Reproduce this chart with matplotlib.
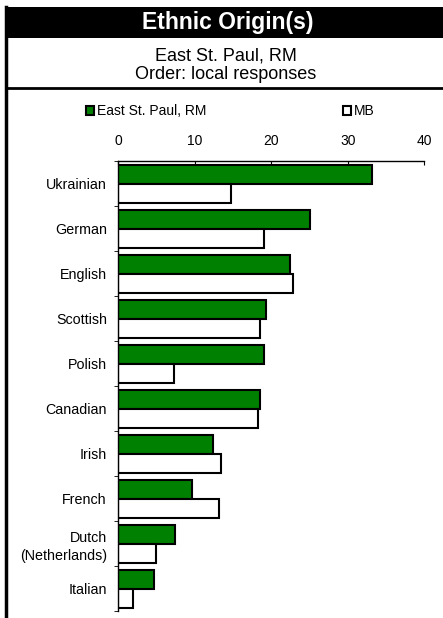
import numpy as np
import matplotlib.pyplot as plt
from matplotlib.patches import Rectangle, Patch
from matplotlib.lines import Line2D

plt.rcParams['font.family'] = ['Liberation Sans', 'DejaVu Sans']

categories = ["Ukrainian", "German", "English", "Scottish", "Polish",
              "Canadian", "Irish", "French", "Dutch\n(Netherlands)", "Italian"]
local = [33.2, 25.1, 22.5, 19.3, 19.1, 18.5, 12.4, 9.7, 7.5, 4.7]
mb = [14.8, 19.1, 22.9, 18.5, 7.3, 18.3, 13.4, 13.2, 4.9, 1.9]
series_names = ["East St. Paul, RM", "MB"]
green = "#008000"

fig = plt.figure(figsize=(4.43, 6.18), dpi=100)

# frame: title band, separator, left border
fig.patches.append(Rectangle((0.0125, 0.9385), 0.99, 0.0502, transform=fig.transFigure,
                             facecolor="black", edgecolor="none", zorder=0))
fig.lines.append(Line2D([0.0125, 1.0], [0.8576, 0.8576], transform=fig.transFigure,
                        color="black", lw=2))
fig.lines.append(Line2D([0.0135, 0.0135], [0.0, 0.989], transform=fig.transFigure,
                        color="black", lw=2.5))

fig.text(0.513, 0.963, "Ethnic Origin(s)", color="white", fontsize=16.5,
         fontweight="bold", ha="center", va="center")
fig.text(0.51, 0.909, "East St. Paul, RM", fontsize=13, ha="center", va="center")
fig.text(0.51, 0.879, "Order: local responses", fontsize=13, ha="center", va="center")

ax = fig.add_axes([0.2664, 0.0113, 0.6914, 0.7282])
y = np.arange(len(categories))
h = 0.42
ax.barh(y - 0.2, local, height=h, color=green, edgecolor="black", lw=1.5, label=series_names[0])
ax.barh(y + 0.22, mb, height=h, color="white", edgecolor="black", lw=1.5, label=series_names[1])

ax.set_xlim(0, 40)
ax.set_ylim(len(categories) - 0.5, -0.5)
ax.xaxis.tick_top()
ax.set_xticks([0, 10, 20, 30, 40])
ax.tick_params(axis="x", direction="in", length=3, labelsize=10, pad=9)
ax.set_yticks(y)
ax.set_yticklabels(categories, linespacing=1.4)
ax.tick_params(axis="y", length=0, labelsize=10.3, pad=8)
ax.set_yticks(np.arange(len(categories) + 1) - 0.5, minor=True)
ax.tick_params(axis="y", which="minor", length=3, direction="out")
for s in ["right", "bottom"]:
    ax.spines[s].set_visible(False)
ax.spines["left"].set_linewidth(1)
ax.spines["top"].set_linewidth(1)

handles = [Patch(facecolor=green, edgecolor="black", lw=1.5),
           Patch(facecolor="white", edgecolor="black", lw=1.5)]
fig.legend(handles, series_names, loc="center left", bbox_to_anchor=(0.166, 0.820),
           ncol=2, frameon=False, fontsize=10, handlelength=0.6, handleheight=0.6,
           handletextpad=0.2, columnspacing=9.8)

fig.savefig("out.png", dpi=100)
